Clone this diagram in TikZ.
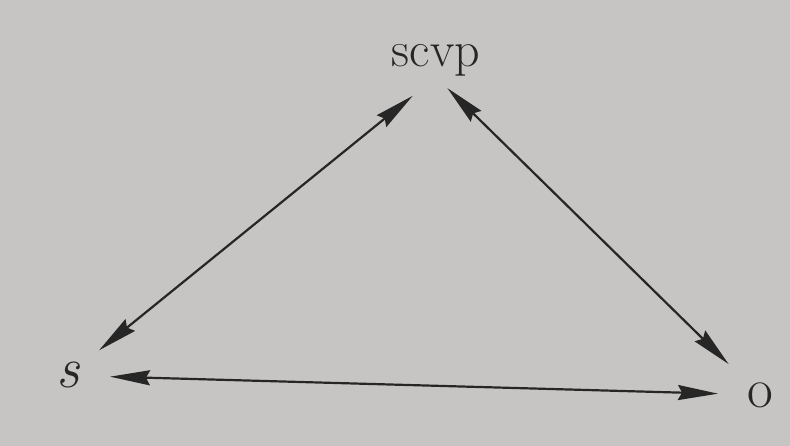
\documentclass[tikz,border=0pt]{standalone}
\usetikzlibrary{arrows.meta}
\definecolor{paper}{RGB}{198,197,195}
\definecolor{ink}{RGB}{38,38,38}
\begin{document}
\begin{tikzpicture}[x=1pt,y=-1pt,
  lbl/.style={inner sep=0pt,text=ink,anchor=base},
  dbl/.style={draw=ink,line width=2.2pt,
    {Stealth[length=40pt,width=15pt,inset=4pt]}-{Stealth[length=40pt,width=15pt,inset=4pt]}}]
\fill[paper] (0,0) rectangle (790,446);
\useasboundingbox (0,0) rectangle (790,446);
\node[lbl,font=\fontsize{50}{54}\selectfont] (scvp) at (436,67) {scvp};
\node[lbl,font=\fontsize{58}{62}\selectfont\itshape] (s) at (68,388) {s};
\node[lbl,font=\fontsize{56}{60}\selectfont] (o) at (760,407) {o};
\draw[dbl,shorten <=40pt,shorten >=30pt] (s.center) -- (scvp.south);
\draw[dbl,shorten <=16pt,shorten >=44pt] (scvp.south) -- (o.center);
\draw[dbl,shorten <=42pt,shorten >=42pt] (s.center) -- (o.center);
\end{tikzpicture}
\end{document}
